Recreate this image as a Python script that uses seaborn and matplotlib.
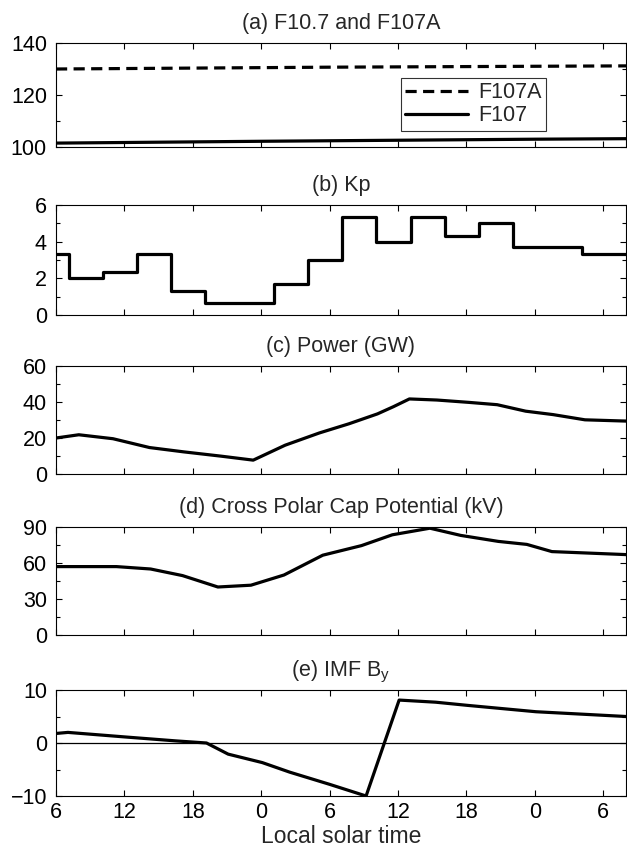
import matplotlib
matplotlib.use("Agg")
import matplotlib.pyplot as plt
from matplotlib.ticker import MultipleLocator, FixedLocator
import seaborn as sns

sns.set_theme(style="ticks")
plt.rcParams['font.family'] = ['Liberation Sans', 'DejaVu Sans']
plt.rcParams['mathtext.fontset'] = 'custom'
plt.rcParams['mathtext.rm'] = 'Liberation Sans'
plt.rcParams['mathtext.it'] = 'Liberation Sans'

# ---------------- data ----------------
hour_ticks = [6, 12, 18, 24, 30, 36, 42, 48, 54]
hour_labels = ['6', '12', '18', '0', '6', '12', '18', '0', '6']

f107a_t = [6, 30, 56]
f107a_v = [130.0, 130.7, 131.2]
f107_t = [6, 24, 48, 56]
f107_v = [101.5, 102.2, 103.0, 103.2]

kp_t = [6.0, 7.1, 10.1, 13.1, 16.1, 19.1, 22.1, 25.1, 28.1, 31.1, 34.1,
        37.1, 40.1, 43.1, 46.1, 49.1, 52.1, 56.0]
kp_v = [3.33, 2.0, 2.33, 3.33, 1.33, 0.67, 0.67, 1.67, 3.0, 5.33, 4.0,
        5.33, 4.33, 5.0, 3.7, 3.7, 3.33, 3.33]

pow_t = [6.0, 8.0, 11.0, 14.2, 17.2, 20.5, 23.3, 26.1, 29.1, 31.7, 34.2,
         35.6, 37.0, 39.4, 42.2, 44.7, 47.2, 49.6, 52.4, 56.0]
pow_v = [20.0, 21.8, 19.6, 14.7, 12.3, 9.9, 7.7, 16.0, 22.8, 27.9, 33.4,
         37.4, 41.7, 41.1, 39.8, 38.5, 34.9, 33.0, 30.1, 29.4]

cpcp_t = [6.0, 11.3, 14.3, 17.1, 20.2, 23.1, 26.0, 29.4, 32.8, 35.5, 38.8,
          41.5, 44.8, 47.3, 49.5, 56.0]
cpcp_v = [57, 57, 55, 49.5, 40, 41.5, 50, 66.5, 74.5, 83.5, 89,
          83, 78, 75.5, 69.5, 67]

by_t = [6.0, 7.05, 12.3, 16.5, 19.2, 21.1, 24.1, 26.5, 30.0, 33.2, 36.1,
        39.3, 42.1, 48.1, 56.0]
by_v = [1.8, 2.0, 1.1, 0.4, 0.0, -2.1, -3.7, -5.5, -7.8, -10.0, 8.1,
        7.7, 7.1, 5.9, 5.0]

titles = ['(a) F10.7 and F107A', '(b) Kp', '(c) Power (GW)',
          '(d) Cross Polar Cap Potential (kV)', r'(e) IMF B$_{\mathregular{y}}$']
ylims = [(100, 140), (0, 6), (0, 60), (0, 90), (-10, 10)]
ymajor = [20, 2, 20, 30, 10]
yminor = [10, 1, 10, 15, 5]

# ---------------- layout ----------------
W, H = 627, 849
fig = plt.figure(figsize=(W / 100, H / 100), dpi=100)
left_px, right_px = 56, 626
panels_px = [(43, 147), (205, 315), (366, 474), (527, 635), (690, 796)]
axes = []
for top, bot in panels_px:
    ax = fig.add_axes([left_px / W, 1 - bot / H, (right_px - left_px) / W, (bot - top) / H])
    axes.append(ax)

lw = 2.3
FS = 15.5

ax = axes[0]
sns.lineplot(x=f107a_t, y=f107a_v, ax=ax, color='black', lw=lw, linestyle=(0, (3.5, 2)),
             estimator=None, label='F107A')
sns.lineplot(x=f107_t, y=f107_v, ax=ax, color='black', lw=lw, estimator=None, label='F107')
leg = ax.legend(loc='upper right', bbox_to_anchor=(0.86, 0.665), borderaxespad=0,
                fontsize=FS, frameon=True, fancybox=False, edgecolor='black',
                handlelength=2.9, handletextpad=0.5, labelspacing=0.1,
                borderpad=0.2)
leg.get_frame().set_linewidth(0.8)

sns.lineplot(x=kp_t, y=kp_v, ax=axes[1], color='black', lw=lw, estimator=None,
             drawstyle='steps-post')
sns.lineplot(x=pow_t, y=pow_v, ax=axes[2], color='black', lw=lw, estimator=None)
sns.lineplot(x=cpcp_t, y=cpcp_v, ax=axes[3], color='black', lw=lw, estimator=None)
axes[4].axhline(0, color='black', lw=0.9)
sns.lineplot(x=by_t, y=by_v, ax=axes[4], color='black', lw=lw, estimator=None)

for i, ax in enumerate(axes):
    ax.set_xlim(6, 56)
    ax.set_ylim(*ylims[i])
    ax.set_title(titles[i], fontsize=FS, pad=10)
    ax.set_xlabel('')
    ax.set_ylabel('')
    ax.xaxis.set_major_locator(FixedLocator(hour_ticks))
    ax.yaxis.set_major_locator(MultipleLocator(ymajor[i]))
    ax.yaxis.set_minor_locator(MultipleLocator(yminor[i]))
    ax.tick_params(axis='both', which='both', direction='in', top=True, right=True,
                   width=0.8, colors='black', labelsize=FS)
    ax.tick_params(axis='both', which='major', length=4.5)
    ax.tick_params(axis='y', which='minor', length=3)
    ax.tick_params(axis='y', which='major', pad=6.5)
    ax.tick_params(axis='x', which='major', pad=4)
    for s in ax.spines.values():
        s.set_linewidth(0.8)
        s.set_color('black')
    if i < 4:
        ax.set_xticklabels([])
    else:
        ax.set_xticklabels(hour_labels)
        ax.set_xlabel('Local solar time', fontsize=16.5, labelpad=2)

fig.savefig('out.png', dpi=100, facecolor='white')
